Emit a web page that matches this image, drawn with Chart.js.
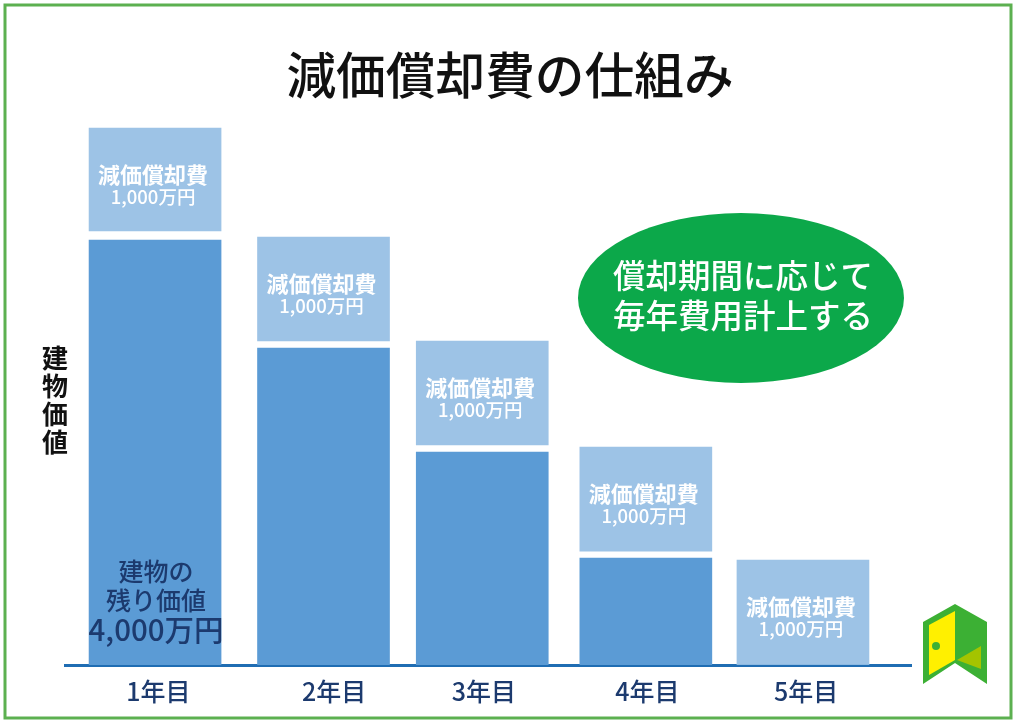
<!DOCTYPE html>
<html lang="ja">
<head>
<meta charset="utf-8">
<title>減価償却費の仕組み</title>
<style>
  html, body { margin: 0; padding: 0; background: #fff; }
  canvas { display: block; }
</style>
<script src="https://cdn.jsdelivr.net/npm/chart.js@4"></script>
</head>
<body>
<canvas id="chart" width="1024" height="724"></canvas>
<script>
// values (万円), x in "year" units because the bars are not evenly spaced
const yearLabels = ['1年目', '2年目', '3年目', '4年目', '5年目'];
const barPositions = [1, 2.04, 3.02, 4.03, 5];
const labelPositions = [1.02, 2.105, 3.03, 4.04, 5.02];
const remainingValue = [3998, 2982, 2004, 1007, 0];
const depreciationLow = [4083, 3048, 2070, 1072, 0];
const depreciationHigh = [5052, 4026, 3048, 2051, 988];

const chartTitle = '減価償却費の仕組み';
const axisTitle = ['建', '物', '価', '値'];
const depreciationName = '減価償却費';
const depreciationAmount = '1,000万円';
const remainingText = ['建物の', '残り価値', '4,000万円'];
const bubbleText = ['償却期間に応じて', '毎年費用計上する'];

const FONT = '"Noto Sans CJK JP", "Noto Sans", sans-serif';
const NAVY = '#1c3a6e';

function setText(ctx, font, color) {
    ctx.font = font + ' ' + FONT;
    ctx.fillStyle = color;
    ctx.textAlign = 'center';
    ctx.textBaseline = 'middle';
}

function drawPolygon(ctx, points, color) {
    ctx.fillStyle = color;
    ctx.beginPath();
    points.forEach(p => ctx.lineTo(p[0], p[1]));
    ctx.closePath();
    ctx.fill();
}

function drawDoorLogo(ctx) {
    drawPolygon(ctx, [[923, 622], [955, 604], [987, 622], [987, 684], [955, 663], [923, 684]], '#3cb034');
    drawPolygon(ctx, [[929, 625], [955, 611], [955, 660], [929, 675]], '#fff000');
    drawPolygon(ctx, [[981, 646], [981, 669], [957, 660]], '#a4c400');
    ctx.fillStyle = '#3cb034';
    ctx.beginPath();
    ctx.arc(936, 646, 4, 0, Math.PI * 2);
    ctx.fill();
}

// frame, title, green bubble and the texts inside the bars
const decorations = {
    id: 'decorations',
    beforeDraw(chart) {
        const ctx = chart.ctx;
        ctx.save();
        ctx.fillStyle = '#fff';
        ctx.fillRect(0, 0, chart.width, chart.height);
        ctx.strokeStyle = '#5cb050';
        ctx.lineWidth = 3;
        ctx.strokeRect(5, 5, 1006, 713);
        ctx.restore();
    },
    afterDraw(chart) {
        const ctx = chart.ctx;
        ctx.save();

        setText(ctx, '500 49.7px', '#111');
        ctx.fillText(chartTitle, 510, 75);

        setText(ctx, '700 26px', '#111');
        axisTitle.forEach((c, i) => ctx.fillText(c, 55, 358 + i * 28));

        ctx.fillStyle = '#0ca84a';
        ctx.beginPath();
        ctx.ellipse(741, 298, 163, 85, 0, 0, Math.PI * 2);
        ctx.fill();
        setText(ctx, '500 32.5px', '#fff');
        bubbleText.forEach((line, i) => ctx.fillText(line, 743, 276 + i * 40));

        chart.getDatasetMeta(1).data.forEach(bar => {
            setText(ctx, '700 22px', '#fff');
            ctx.fillText(depreciationName, bar.x - 2, bar.y + 47);
            setText(ctx, '500 18.5px', '#fff');
            ctx.fillText(depreciationAmount, bar.x - 2, bar.y + 69);
        });

        const first = chart.getDatasetMeta(0).data[0];
        setText(ctx, '500 25px', NAVY);
        ctx.fillText(remainingText[0], first.x + 1, 571);
        ctx.fillText(remainingText[1], first.x + 1, 600);
        setText(ctx, '500 29.5px', NAVY);
        ctx.fillText(remainingText[2], first.x + 1, 630);

        drawDoorLogo(ctx);
        ctx.restore();
    }
};

new Chart(document.getElementById('chart').getContext('2d'), {
    type: 'bar',
    data: {
        datasets: [
            {
                label: '建物の残り価値',
                data: barPositions.map((x, i) => ({ x: x, y: remainingValue[i] })),
                backgroundColor: '#5b9bd5',
                barThickness: 132,
                grouped: false
            },
            {
                label: depreciationName,
                data: barPositions.map((x, i) => ({ x: x, y: [depreciationLow[i], depreciationHigh[i]] })),
                backgroundColor: '#9dc3e6',
                barThickness: 132,
                grouped: false
            }
        ]
    },
    options: {
        responsive: false,
        animation: false,
        layout: { padding: { left: 65, right: 113, top: 120, bottom: 0 } },
        plugins: { legend: { display: false }, title: { display: false }, tooltip: { enabled: false } },
        scales: {
            x: {
                type: 'linear',
                offset: false,
                min: 0.444,
                max: 5.667,
                z: 1,
                grid: { display: false, offset: false },
                border: { color: '#1f6db3', width: 3 },
                afterBuildTicks: scale => { scale.ticks = labelPositions.map(v => ({ value: v })); },
                afterFit: scale => { scale.height = 59; },
                ticks: {
                    autoSkip: false,
                    maxRotation: 0,
                    padding: 3,
                    color: NAVY,
                    font: { family: FONT, size: 25, weight: '500' },
                    callback: (value, index) => yearLabels[index]
                }
            },
            y: { display: false, min: 0, max: 5127 }
        }
    },
    plugins: [decorations]
});
</script>
</body>
</html>
